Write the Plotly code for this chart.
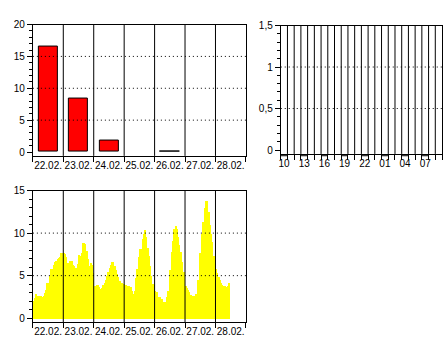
import plotly.graph_objects as go

# ---------------- data ----------------
days = ["22.02.", "23.02.", "24.02.", "25.02.", "26.02.", "27.02.", "28.02."]
daily_values = [16.5, 8.35, 1.8, 0.0, 0.1, 0.0, 0.0]

hours = ["10", "11", "12", "13", "14", "15", "16", "17", "18", "19", "20", "21",
         "22", "23", "00", "01", "02", "03", "04", "05", "06", "07", "08", "09"]
hour_labels = ["10", "13", "16", "19", "22", "01", "04", "07"]
hourly_values = [0, 0, 0, 0, 0, 0, 0, 0, 0, 0, 0, 0,
                 0, 0, 0, 0, 0, 0, 0, 0, 0, 0, 0, 0]

day22 = [2.1, 2.4, 2.9, 2.7, 2.7, 2.7, 2.7, 2.5, 2.7, 3.0, 3.4, 4.2, 4.2, 5.0, 5.8, 5.8, 6.3, 6.6, 6.8, 7.0, 7.1, 7.3, 7.7, 7.7]
day23 = [7.7, 7.6, 7.2, 6.5, 6.5, 6.8, 6.8, 6.3, 6.2, 6.0, 6.0, 6.4, 7.5, 7.4, 7.7, 8.9, 8.9, 8.8, 7.9, 7.0, 6.2, 6.5, 6.3, 5.4]
day24 = [3.8, 3.8, 3.9, 3.9, 3.7, 3.5, 3.6, 3.9, 4.2, 4.6, 5.0, 5.5, 6.0, 6.3, 6.6, 6.6, 6.2, 5.7, 5.3, 4.9, 4.4, 4.2, 4.2, 4.1]
day25 = [4.0, 3.9, 3.8, 3.8, 3.6, 3.7, 3.2, 2.9, 3.3, 4.8, 5.8, 7.2, 8.2, 8.2, 9.4, 10.0, 10.4, 9.6, 8.3, 7.4, 6.2, 5.0, 4.1, 3.9]
day26 = [3.2, 3.1, 2.5, 2.5, 2.5, 2.3, 2.0, 1.8, 2.0, 2.6, 3.3, 3.3, 5.7, 7.8, 9.1, 10.5, 10.9, 10.5, 9.6, 8.7, 7.8, 6.6, 5.5, 5.5]
day27 = [3.8, 3.6, 3.4, 3.1, 2.8, 2.7, 2.7, 2.7, 2.9, 2.8, 4.5, 7.7, 7.7, 10.0, 11.3, 13.0, 13.8, 13.8, 12.5, 11.0, 10.0, 9.0, 7.4, 7.4]
day28 = [5.8, 5.4, 4.9, 4.5, 4.2, 3.9, 3.8, 3.8, 3.7, 3.8, 4.2]
hourly_series = day22 + day23 + day24 + day25 + day26 + day27 + day28

grid_top_left = [5, 10, 15]
grid_top_right = [0.5, 1.0]
grid_bottom = [5, 10]
y_ticks_top_left = [0, 5, 10, 15, 20]
y_ticks_top_right = [0, 0.5, 1.0, 1.5]
y_ticktext_top_right = ["0", "0,5", "1", "1,5"]
y_ticks_bottom = [0, 5, 10, 15]

# ---------------- figure ----------------
W, H = 446, 340
FONT = dict(family="Liberation Sans, Arial, sans-serif", size=10, color="black")

nd = len(days)
nh = len(hours)
day_centers = [i + 0.5 for i in range(nd)]
day_bounds = list(range(nd + 1))
hour_centers = [i + 0.5 for i in range(nh)]
hour_bounds = list(range(nh + 1))
label_idx = [hours.index(h) for h in hour_labels]

fig = go.Figure()

fig.add_trace(go.Bar(
    x=day_centers, y=daily_values, width=0.63,
    marker=dict(color="#ff0000",
                line=dict(color="black", width=[1 if v > 0 else 0 for v in daily_values])),
    xaxis="x", yaxis="y", hoverinfo="skip"))

fig.add_trace(go.Bar(
    x=hour_centers, y=hourly_values, width=0.8,
    marker=dict(color="#ff0000",
                line=dict(color="black", width=[1 if v > 0 else 0 for v in hourly_values])),
    xaxis="x2", yaxis="y2", hoverinfo="skip"))

fig.add_trace(go.Bar(
    x=[(i + 0.5) / 24 for i in range(len(hourly_series))], y=hourly_series,
    width=1 / 24,
    marker=dict(color="#ffff00", line=dict(width=0)),
    xaxis="x3", yaxis="y3", hoverinfo="skip"))


def px_x(a, b):
    return [a / W, b / W]


def px_y(top, bottom):
    return [1 - bottom / H, 1 - top / H]


def xaxis_cfg(domain, anchor, rng, tickvals, ticktext, minor_vals):
    return dict(domain=domain, anchor=anchor, range=rng, tickmode="array",
                tickvals=tickvals, ticktext=ticktext, ticks="", showgrid=False,
                zeroline=False, showline=True, linecolor="black", linewidth=1,
                mirror=True, tickfont=FONT, fixedrange=True,
                minor=dict(tickmode="array", tickvals=minor_vals, ticks="outside",
                           ticklen=5, tickcolor="black", tickwidth=1, showgrid=False))


def yaxis_cfg(domain, anchor, rng, tickvals, ticktext, minor_dtick):
    return dict(domain=domain, anchor=anchor, range=rng, tickmode="array",
                tickvals=tickvals, ticktext=ticktext, ticks="outside", ticklen=5,
                tickcolor="black", tickwidth=1, showgrid=False, zeroline=False,
                showline=True, linecolor="black", linewidth=1, mirror=True,
                tickfont=FONT, fixedrange=True,
                minor=dict(tickmode="linear", tick0=0, dtick=minor_dtick, ticks="outside",
                           ticklen=3, tickcolor="black", tickwidth=1, showgrid=False))


fig.update_layout(
    width=W, height=H, margin=dict(l=0, r=0, t=0, b=0),
    paper_bgcolor="white", plot_bgcolor="white",
    showlegend=False, bargap=0, font=FONT, separators=",.",
    xaxis=xaxis_cfg(px_x(31, 245), "y", [0, nd], day_centers, days, day_bounds),
    yaxis=yaxis_cfg(px_y(19, 153.5), "x", [-0.61, 20], y_ticks_top_left,
                    [str(v) for v in y_ticks_top_left], 1),
    xaxis2=xaxis_cfg(px_x(280, 442), "y2", [0, nh],
                     [hour_centers[i] for i in label_idx], hour_labels, hour_bounds),
    yaxis2=yaxis_cfg(px_y(20, 151.5), "x2", [-0.047, 1.5], y_ticks_top_right,
                     y_ticktext_top_right, 0.1),
    xaxis3=xaxis_cfg(px_x(31, 245), "y3", [0, nd], day_centers, days, day_bounds),
    yaxis3=yaxis_cfg(px_y(189, 324), "x3", [-0.49, 15], y_ticks_bottom,
                     [str(v) for v in y_ticks_bottom], 1),
)

shapes = []
DOT = "1px,3px"
# vertical separators (drawn above traces)
for xr, yr, bounds in (("x", "y domain", day_bounds), ("x2", "y2 domain", hour_bounds),
                       ("x3", "y3 domain", day_bounds)):
    for b in bounds[1:-1]:
        shapes.append(dict(type="line", xref=xr, yref=yr, x0=b, x1=b, y0=0, y1=1,
                           line=dict(color="black", width=1), layer="above"))
# dotted horizontal grid lines
for xr, yr, vals in (("x domain", "y", grid_top_left), ("x2 domain", "y2", grid_top_right),
                     ("x3 domain", "y3", grid_bottom)):
    for v in vals:
        shapes.append(dict(type="line", xref=xr, yref=yr, x0=0, x1=1, y0=v, y1=v,
                           line=dict(color="black", width=1, dash=DOT), layer="above"))
# small brackets under labelled hours
for i in label_idx:
    shapes.append(dict(type="line", xref="x2", yref="y2 domain", x0=i, x1=i + 1,
                       y0=-0.014, y1=-0.014, line=dict(color="black", width=1),
                       layer="above"))
fig.update_layout(shapes=shapes)

fig.write_html("out.html")
